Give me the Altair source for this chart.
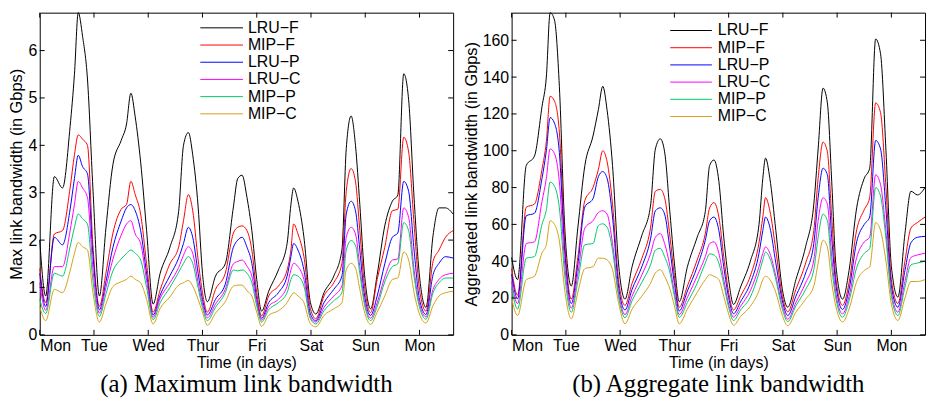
import altair as alt
import pandas as pd

# ---------------- data ----------------
days = [0.00, 0.11, 0.27, 0.42, 0.56, 0.64, 0.71, 0.79, 0.88, 0.98,
        1.10, 1.22, 1.35, 1.50, 1.60, 1.68, 1.76, 1.86, 1.97,
        2.09, 2.22, 2.40, 2.56, 2.65, 2.74, 2.82, 2.92, 3.00,
        3.09, 3.24, 3.42, 3.57, 3.65, 3.73, 3.82, 3.91, 4.00,
        4.09, 4.22, 4.40, 4.56, 4.63, 4.68, 4.76, 4.87, 4.99,
        5.09, 5.24, 5.42, 5.57, 5.65, 5.74, 5.82, 5.90, 5.98,
        6.10, 6.22, 6.36, 6.50, 6.60, 6.71, 6.80, 6.90, 7.00,
        7.12, 7.25, 7.36, 7.48, 7.62]

day_names = ["Mon", "Tue", "Wed", "Thur", "Fri", "Sat", "Sun", "Mon"]
series_names = ["LRU\u2212F", "MIP\u2212F", "LRU\u2212P", "LRU\u2212C", "MIP\u2212P", "MIP\u2212C"]
colors = ["#000000", "#ff0000", "#0000ff", "#ff00ff", "#00c864", "#d4a017"]

# (a) maximum link bandwidth (Gbps)
max_lru_f = [2.0, 0.82, 3.34, 3.1, 4.4, 5.5, 6.8, 6.3, 5.4, 3.1,
             0.82, 2.25, 3.6, 4.1, 4.45, 5.1, 4.6, 3.65, 2.2,
             0.65, 1.3, 1.85, 2.6, 4.0, 4.27, 3.8, 2.7, 1.3,
             0.7, 1.24, 1.5, 2.7, 3.3, 3.37, 2.9, 2.2, 1.17,
             0.5, 0.92, 1.37, 1.93, 2.75, 3.1, 2.82, 2.06, 0.68,
             0.44, 0.89, 1.24, 1.79, 3.93, 4.62, 4.0, 2.75, 1.37,
             0.55, 1.27, 2.3, 2.82, 2.95, 5.51, 4.96, 2.89, 1.24,
             0.58, 2.1, 2.68, 2.68, 2.55]
max_mip_f = [1.4, 0.68, 2.13, 2.2, 3.1, 3.8, 4.22, 4.13, 4.0, 1.9,
             0.6, 1.3, 2.15, 2.65, 2.75, 3.24, 2.96, 2.55, 1.5,
             0.48, 0.95, 1.5, 1.85, 2.41, 2.96, 2.62, 1.58, 0.89,
             0.48, 0.96, 1.3, 2.15, 2.27, 2.3, 2.2, 1.79, 0.89,
             0.4, 0.82, 1.03, 1.37, 1.79, 2.34, 2.13, 1.65, 0.55,
             0.34, 0.82, 1.1, 1.51, 3.03, 3.51, 3.24, 2.2, 1.1,
             0.47, 1.17, 1.85, 2.62, 2.65, 4.17, 3.86, 2.34, 0.96,
             0.5, 1.55, 1.79, 2.06, 2.2]
max_lru_p = [1.3, 0.6, 2.06, 1.9, 2.65, 3.3, 3.79, 3.55, 3.4, 1.7,
             0.53, 1.12, 1.85, 2.4, 2.68, 2.75, 2.62, 2.2, 1.3,
             0.42, 0.84, 1.25, 1.62, 1.93, 2.27, 2.06, 1.3, 0.75,
             0.42, 0.75, 1.07, 1.85, 2.0, 2.06, 1.85, 1.51, 0.75,
             0.35, 0.68, 0.89, 1.24, 1.65, 1.93, 1.79, 1.37, 0.44,
             0.3, 0.68, 0.96, 1.24, 2.55, 2.82, 2.62, 1.79, 0.89,
             0.41, 0.82, 1.5, 2.06, 2.15, 3.24, 3.03, 1.79, 0.75,
             0.43, 1.27, 1.51, 1.65, 1.62]
max_lru_c = [1.1, 0.52, 1.44, 1.44, 2.2, 2.75, 3.24, 3.1, 2.9, 1.4,
             0.46, 1.0, 1.6, 2.1, 2.34, 2.41, 2.13, 1.93, 1.15,
             0.37, 0.77, 1.1, 1.42, 1.68, 1.86, 1.72, 1.1, 0.65,
             0.36, 0.65, 0.96, 1.5, 1.55, 1.58, 1.45, 1.24, 0.68,
             0.31, 0.6, 0.75, 1.03, 1.37, 1.51, 1.44, 1.17, 0.37,
             0.27, 0.58, 0.82, 1.03, 2.06, 2.27, 2.13, 1.44, 0.75,
             0.35, 0.68, 1.22, 1.58, 1.6, 2.68, 2.48, 1.37, 0.65,
             0.38, 0.96, 1.17, 1.27, 1.3]
max_mip_p = [0.75, 0.45, 1.3, 1.24, 1.86, 2.27, 2.55, 2.45, 2.34, 1.15,
             0.39, 0.86, 1.35, 1.6, 1.72, 1.79, 1.72, 1.58, 1.0,
             0.32, 0.68, 1.0, 1.32, 1.51, 1.65, 1.51, 0.99, 0.58,
             0.3, 0.58, 0.89, 1.37, 1.35, 1.37, 1.3, 1.1, 0.61,
             0.27, 0.53, 0.68, 0.89, 1.17, 1.27, 1.24, 1.03, 0.34,
             0.23, 0.51, 0.72, 0.89, 1.79, 1.99, 1.89, 1.3, 0.68,
             0.3, 0.6, 1.12, 1.44, 1.5, 2.37, 2.2, 1.24, 0.58,
             0.33, 0.89, 1.1, 1.2, 1.2]
max_mip_c = [0.6, 0.3, 0.96, 0.89, 1.35, 1.72, 1.95, 1.86, 1.79, 0.9,
             0.27, 0.65, 1.02, 1.12, 1.17, 1.24, 1.17, 1.1, 0.75,
             0.23, 0.56, 0.8, 1.05, 1.1, 1.15, 1.03, 0.75, 0.48,
             0.2, 0.46, 0.7, 1.03, 1.05, 1.05, 0.93, 0.82, 0.48,
             0.18, 0.41, 0.51, 0.68, 0.82, 0.89, 0.82, 0.68, 0.23,
             0.17, 0.41, 0.55, 0.68, 1.37, 1.51, 1.41, 0.96, 0.51,
             0.22, 0.48, 0.82, 1.17, 1.2, 1.75, 1.58, 0.89, 0.44,
             0.25, 0.62, 0.82, 0.89, 0.92]

# (b) aggregate link bandwidth (Gbps)
agg_lru_f = [42, 30, 92, 97, 124, 140, 175, 171, 135, 58,
             26.5, 58, 92, 108, 122.5, 135, 122, 92, 39,
             19.4, 37, 54, 70, 101, 106.5, 99.4, 65.6, 39,
             18, 37, 53, 67, 92, 95, 83.4, 53, 30,
             16.5, 26, 40, 60, 85, 96, 85, 56.7, 24.7,
             15, 30, 48, 71, 101, 134, 126, 83.4, 37,
             19.4, 35, 69, 85, 90.5, 160.7, 152.7, 100, 37,
             20.5, 55, 78, 76, 80]
agg_mip_f = [36, 21.5, 69.3, 71, 90, 105, 129.6, 127, 110, 50,
             19.4, 42, 73, 80, 90, 100, 94, 71, 30,
             16, 28, 41.5, 58, 78, 79, 74.5, 53, 32,
             15, 26.5, 40.7, 55, 69, 71.8, 64, 42.5, 23,
             13.5, 21, 32, 50, 64, 74.5, 67.4, 46, 21,
             12.5, 24.7, 39, 56.7, 85, 104.7, 99.4, 64, 30,
             16, 28.3, 57, 68, 74.5, 126, 120.7, 80, 30,
             17, 40, 58, 61, 64]
agg_lru_p = [33, 19.6, 64.7, 66, 85, 100, 118, 115, 99, 45,
             17, 38, 69.5, 74, 86, 88.7, 85, 64, 26.5,
             13.5, 24.7, 37, 52, 67.4, 69, 65.6, 46, 28,
             13, 23.8, 37, 51.4, 62, 64, 56.7, 37, 20.3,
             11.5, 18, 28, 44.3, 56.7, 64, 58.5, 39, 18.5,
             10.5, 21, 33.6, 49.6, 74.5, 90.5, 87, 53, 26.5,
             13.8, 24.7, 50.5, 60, 64, 105.6, 101, 68, 26.5,
             15, 35, 50, 53, 53.5]
agg_lru_c = [29, 17, 49.6, 50.5, 72.5, 85, 101, 98.5, 83, 38,
             14.5, 33, 58, 62, 66.5, 67.4, 65.6, 49.6, 23,
             11, 21, 32.5, 44, 53, 55, 49.6, 37, 23,
             11, 20.3, 32, 42.5, 49.6, 50.5, 44.3, 30, 16.7,
             9.6, 15.5, 24, 37, 44.3, 47.8, 44.3, 32, 15.8,
             8.5, 17.6, 28.3, 40.7, 62, 74.5, 71, 42.5, 22,
             11.4, 21, 42, 50.5, 53, 87, 81.6, 56, 23,
             12.3, 29, 42, 43.4, 44.3]
agg_mip_p = [26, 14, 41.6, 42.5, 60, 68, 83, 80.7, 69, 32,
             12.3, 29, 49, 49.6, 59.4, 60.3, 58.5, 46, 21,
             9.3, 18.5, 28.5, 38, 46, 47, 42.5, 33.6, 21,
             9.5, 17.6, 28, 39, 44, 43.4, 39, 27.4, 15,
             7.8, 13.5, 20.5, 33.6, 40.7, 45, 41.6, 30, 14,
             7.2, 15.8, 24.7, 35.4, 53, 65.6, 62, 37, 19.4,
             9.6, 18.5, 36.5, 44.3, 47, 80, 75.4, 52, 21,
             10.5, 26, 38, 39, 40]
agg_mip_c = [20, 10.5, 30, 31.8, 44.5, 49, 62, 60, 51, 24,
             8.7, 23, 36, 37, 41.7, 41.6, 40.7, 35.4, 17.6,
             6, 14, 21, 28, 33.6, 35.4, 31.8, 24.7, 15.8,
             6, 14, 23, 30, 32.7, 31.8, 30, 21, 11.4,
             5.2, 10, 15.5, 24, 30, 31.8, 30, 23, 10.5,
             5, 12.3, 19.4, 26.5, 39, 51.4, 47.8, 28.3, 15,
             7, 14, 29, 35, 37, 61, 56.7, 40, 16.7,
             7.8, 20, 29, 29, 30]

max_ticks = [0, 1, 2, 3, 4, 5, 6]
agg_ticks = [0, 20, 40, 60, 80, 100, 120, 140, 160]

# ---------------- layout ----------------
W, H = 417, 325
SANS = "Liberation Sans"
SERIF = "Liberation Serif"
label_expr = "[" + ",".join("'%s'" % d for d in day_names) + "][datum.value]"


def panel(values, ymax, yticks, ytitle, caption, leg):
    rows = []
    for name, vals in zip(series_names, values):
        for d, v in zip(days, vals):
            rows.append({"day": d, "value": v, "series": name})
    df = pd.DataFrame(rows)

    x_axis = alt.Axis(values=list(range(len(day_names))), labelExpr=label_expr,
                      title="Time (in days)", labelFontSize=16, titleFontSize=16,
                      labelPadding=3, titlePadding=1, ticks=False, domain=False,
                      grid=False, labelFont=SANS, titleFont=SANS,
                      titleFontWeight="normal", labelColor="black", titleColor="black")
    y_axis = alt.Axis(values=yticks, title=ytitle, labelFontSize=16,
                      titleFontSize=16.5, labelPadding=3, titlePadding=3,
                      ticks=False, domain=False, grid=False, labelFont=SANS,
                      titleFont=SANS, titleFontWeight="normal",
                      labelColor="black", titleColor="black")
    xs = alt.Scale(domain=[0, 7.62], nice=False, zero=False)
    ys = alt.Scale(domain=[0, ymax], nice=False, zero=True)

    lines = alt.Chart(df).mark_line(strokeWidth=1, interpolate="monotone").encode(
        x=alt.X("day:Q", scale=xs, axis=x_axis),
        y=alt.Y("value:Q", scale=ys, axis=y_axis),
        color=alt.Color("series:N", scale=alt.Scale(domain=series_names, range=colors),
                        legend=None),
    )

    xt = pd.DataFrame({"day": list(range(len(day_names)))})
    yt = pd.DataFrame({"value": yticks})
    tl = 5
    ticks = [
        alt.Chart(xt).mark_rule(color="black", strokeWidth=1).encode(
            x=alt.X("day:Q", scale=xs, axis=x_axis), y=alt.value(H), y2=alt.value(H - tl)),
        alt.Chart(xt).mark_rule(color="black", strokeWidth=1).encode(
            x=alt.X("day:Q", scale=xs, axis=x_axis), y=alt.value(0), y2=alt.value(tl)),
        alt.Chart(yt).mark_rule(color="black", strokeWidth=1).encode(
            y=alt.Y("value:Q", scale=ys, axis=y_axis), x=alt.value(0), x2=alt.value(tl)),
        alt.Chart(yt).mark_rule(color="black", strokeWidth=1).encode(
            y=alt.Y("value:Q", scale=ys, axis=y_axis), x=alt.value(W), x2=alt.value(W - tl)),
    ]

    one = pd.DataFrame({"k": [0]})
    legend = []
    lx0, lx1, tx, ly0, dy = leg
    for i, (n, c) in enumerate(zip(series_names, colors)):
        yy = ly0 + i * dy
        legend.append(alt.Chart(one).mark_rule(color=c, strokeWidth=1).encode(
            x=alt.value(lx0), x2=alt.value(lx1), y=alt.value(yy)))
        legend.append(alt.Chart(one).mark_text(
            align="left", baseline="middle", fontSize=16, font=SANS, color="black").encode(
            x=alt.value(tx), y=alt.value(yy), text=alt.value(n)))

    return alt.layer(lines, *ticks, *legend).properties(
        width=W, height=H,
        title=alt.TitleParams(text=caption, orient="bottom", font=SERIF, fontSize=25,
                              fontWeight="normal", color="black", offset=2,
                              anchor="middle"))


left = panel([max_lru_f, max_mip_f, max_lru_p, max_lru_c, max_mip_p, max_mip_c],
             6.8, max_ticks, "Max link bandwidth (in Gbps)",
             "(a) Maximum link bandwidth", (162, 205, 210, 15.3, 17.35))
right = panel([agg_lru_f, agg_mip_f, agg_lru_p, agg_lru_c, agg_mip_p, agg_mip_c],
              175, agg_ticks, "Aggregated link bandwidth (in Gbps)",
              "(b) Aggregate link bandwidth", (160, 202, 208, 18, 17.35))

chart = alt.hconcat(left, right, spacing=6).configure_view(
    stroke="black", strokeWidth=1
).properties(padding={"left": 0, "top": 0, "right": 0, "bottom": 0})

chart.save("out.html", embed_options={"renderer": "svg", "actions": False})
